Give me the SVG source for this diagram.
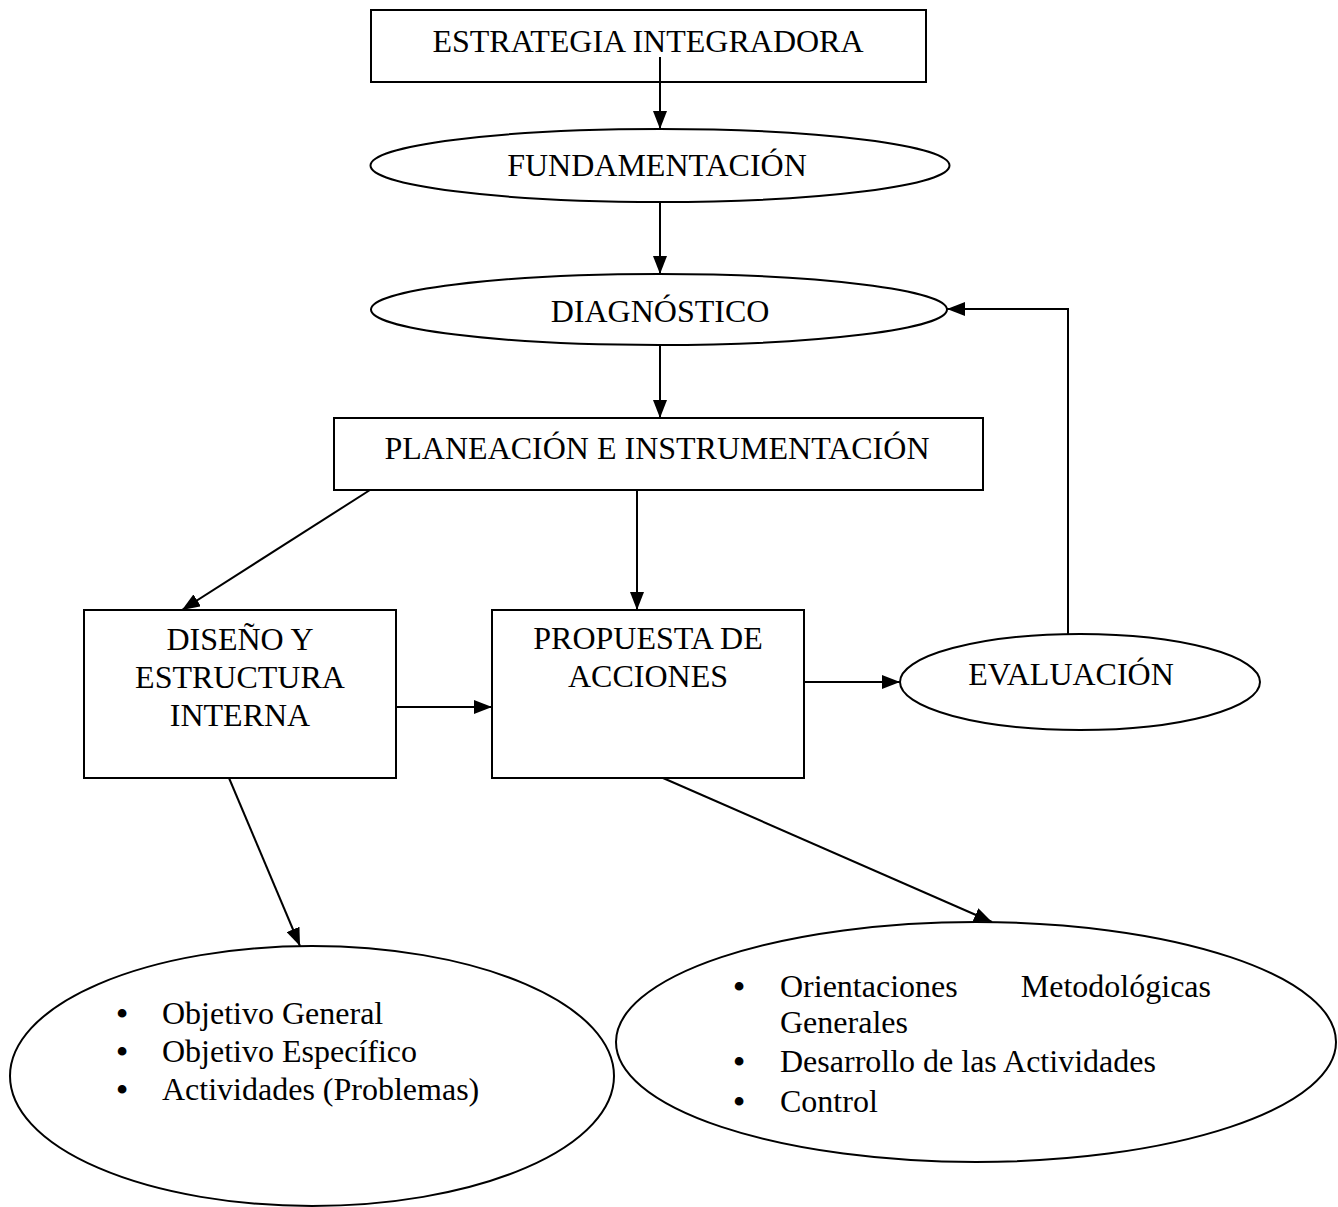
<svg xmlns="http://www.w3.org/2000/svg" width="1338" height="1207" viewBox="0 0 1338 1207">
  <style>
    .shape { fill: #ffffff; stroke: #000000; stroke-width: 2; }
    text { font-family: 'Liberation Serif', 'Times New Roman', Times, 'DejaVu Serif', serif; font-size: 32px; fill: #000000; }
    .c { text-anchor: middle; }
    .b { font-weight: bold; text-anchor: middle; }
    .conn { stroke: #000000; stroke-width: 2; fill: none; }
  </style>
  <defs>
    <marker id="ah" viewBox="0 0 18 14" refX="18" refY="7" markerWidth="18" markerHeight="14" markerUnits="userSpaceOnUse" orient="auto">
      <path d="M0,0 L18,7 L0,14 z" fill="#000000"/>
    </marker>
  </defs>
  <rect x="0" y="0" width="1338" height="1207" fill="#ffffff"/>

  <g font-family="Liberation Serif, Times New Roman, serif" font-size="32">
  <g id="estrategia">
    <rect class="shape" x="371" y="10" width="555" height="72"/>
    <text class="c" x="648" y="52">ESTRATEGIA INTEGRADORA</text>
  </g>
  <g id="fundamentacion">
    <ellipse class="shape" cx="660" cy="165.5" rx="289.5" ry="36.5"/>
    <text class="c" x="657" y="176">FUNDAMENTACIÓN</text>
  </g>
  <g id="diagnostico">
    <ellipse class="shape" cx="659" cy="309.5" rx="288" ry="35.5"/>
    <text class="c" x="660" y="322">DIAGNÓSTICO</text>
  </g>
  <g id="planeacion">
    <rect class="shape" x="334" y="418" width="649" height="72"/>
    <text class="c" x="657" y="459">PLANEACIÓN E INSTRUMENTACIÓN</text>
  </g>
  <g id="diseno">
    <rect class="shape" x="84" y="610" width="312" height="168"/>
    <text class="c" x="240" y="650">DISEÑO Y</text>
    <text class="c" x="240" y="688">ESTRUCTURA</text>
    <text class="c" x="240" y="726">INTERNA</text>
  </g>
  <g id="propuesta">
    <rect class="shape" x="492" y="610" width="312" height="168"/>
    <text class="c" x="648" y="649">PROPUESTA DE</text>
    <text class="c" x="648" y="687">ACCIONES</text>
  </g>
  <g id="evaluacion">
    <ellipse class="shape" cx="1080" cy="682" rx="180" ry="48"/>
    <text class="c" x="1071" y="685">EVALUACIÓN</text>
  </g>
  <g id="objetivos">
    <ellipse class="shape" cx="312" cy="1076" rx="302" ry="130"/>
    <text class="b" x="122" y="1024">•</text>
    <text x="162" y="1024">Objetivo General</text>
    <text class="b" x="122" y="1062">•</text>
    <text x="162" y="1062">Objetivo Específico</text>
    <text class="b" x="122" y="1100">•</text>
    <text x="162" y="1100">Actividades (Problemas)</text>
  </g>
  <g id="orientaciones">
    <ellipse class="shape" cx="976" cy="1042" rx="360" ry="120"/>
    <text class="b" x="739" y="997">•</text>
    <text x="780" y="997">Orientaciones</text>
    <text x="1211" y="997" text-anchor="end">Metodológicas</text>
    <text x="780" y="1033">Generales</text>
    <text class="b" x="739" y="1072">•</text>
    <text x="780" y="1072">Desarrollo de las Actividades</text>
    <text class="b" x="739" y="1112">•</text>
    <text x="780" y="1112">Control</text>
  </g>
  </g>

  <g id="connectors">
    <line class="conn" x1="660" y1="57" x2="660" y2="129" marker-end="url(#ah)"/>
    <line class="conn" x1="660" y1="202" x2="660" y2="274" marker-end="url(#ah)"/>
    <line class="conn" x1="660" y1="345" x2="660" y2="418" marker-end="url(#ah)"/>
    <line class="conn" x1="370" y1="490" x2="182" y2="610" marker-end="url(#ah)"/>
    <line class="conn" x1="637" y1="490" x2="637" y2="610" marker-end="url(#ah)"/>
    <line class="conn" x1="396" y1="707" x2="492" y2="707" marker-end="url(#ah)"/>
    <line class="conn" x1="804" y1="682" x2="900" y2="682" marker-end="url(#ah)"/>
    <polyline class="conn" points="1068,634 1068,309 947,309" marker-end="url(#ah)"/>
    <line class="conn" x1="229" y1="778" x2="300" y2="946" marker-end="url(#ah)"/>
    <line class="conn" x1="663" y1="778" x2="992" y2="922" marker-end="url(#ah)"/>
  </g>
</svg>
